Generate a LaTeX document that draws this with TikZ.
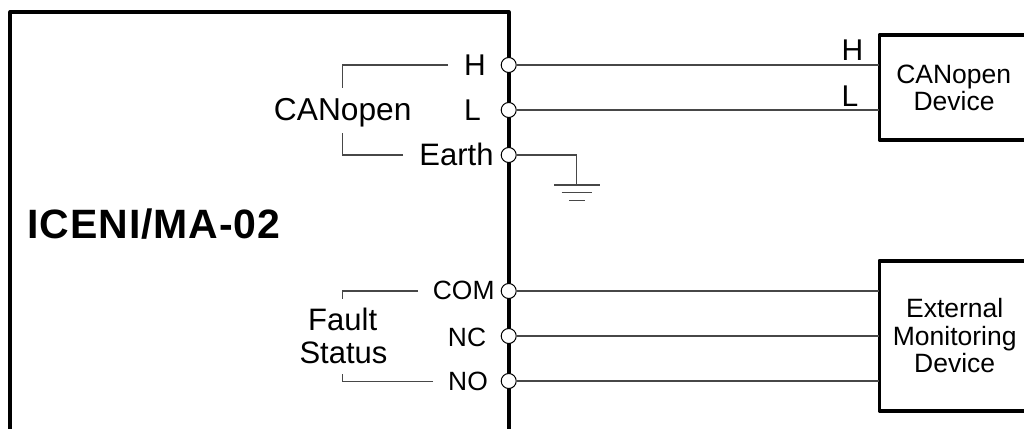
\documentclass[tikz,border=0pt]{standalone}
\usepackage{fontspec}
\setmainfont{Liberation Sans}
\newfontfamily\namefont[LetterSpace=2.2]{Liberation Sans}
\tikzset{
  heavy/.style={line width=3.9pt,black,line cap=round,line join=round},
  wire/.style={line width=1.3pt,black!72},
  thin wire/.style={line width=1.1pt,black!72},
  term/.style={circle,draw=black,line width=1pt,fill=white,minimum size=15pt,inner sep=0pt},
  lbl/.style={inner sep=0pt,anchor=base,text=black,font=\fontsize{#1}{#1}\selectfont}
}
\begin{document}
\begin{tikzpicture}[x=1pt,y=-1pt]
\useasboundingbox (0,0) rectangle (1024,428);
\fill[white] (0,0) rectangle (1024,428);
% main box
\coordinate (mbl) at (10.3,436);
\coordinate (mtl) at (10.3,12);
\coordinate (mtr) at (508.7,12);
\coordinate (mbr) at (508.7,436);
\draw[heavy] (mbl) -- (mtl) -- (mtr) -- (mbr);
% devices
\coordinate (d1tr) at (1034,35);
\coordinate (d1tl) at (879.5,35);
\coordinate (d1bl) at (879.5,139.8);
\coordinate (d1br) at (1034,139.8);
\draw[heavy] (d1tr) -- (d1tl) -- (d1bl) -- (d1br);
\coordinate (d2tr) at (1034,260.7);
\coordinate (d2tl) at (879.5,260.7);
\coordinate (d2bl) at (879.5,411);
\coordinate (d2br) at (1034,411);
\draw[heavy] (d2tr) -- (d2tl) -- (d2bl) -- (d2br);
% terminals
\node[term] (th) at (508.7,65) {};
\node[term] (tl) at (508.7,110) {};
\node[term] (te) at (508.7,155) {};
\node[term] (tc) at (508.7,291) {};
\node[term] (tnc) at (508.7,336) {};
\node[term] (tno) at (508.7,381) {};
% wires
\coordinate (dh) at (879,65);
\coordinate (dl) at (879,110);
\coordinate (dc) at (879,291);
\coordinate (dnc) at (879,336);
\coordinate (dno) at (879,381);
\draw[wire] (th) -- (dh);
\draw[wire] (tl) -- (dl);
\draw[wire] (tc) -- (dc);
\draw[wire] (tnc) -- (dnc);
\draw[wire] (tno) -- (dno);
% earth
\coordinate (gnd) at (576.7,185);
\draw[wire] (te) -| (gnd);
\coordinate (g1a) at (554,185);\coordinate (g1b) at (600,185);
\coordinate (g2a) at (561.7,192.7);\coordinate (g2b) at (592,192.7);
\coordinate (g3a) at (569,200.5);\coordinate (g3b) at (585,200.5);
\draw[wire] (g1a) -- (g1b);
\draw[wire] (g2a) -- (g2b);
\draw[wire] (g3a) -- (g3b);
% labels
\node[lbl=30] (lh) at (475,75.8) {H};
\node[lbl=30] (ll) at (472.5,120) {L};
\node[lbl=31] (le) at (456.5,165.7) {Earth};
\node[lbl=31.7] (can) at (342.7,120.7) {CANopen};
\node[lbl=26.4] (lc) at (463.7,299.3) {COM};
\node[lbl=26.4] (lnc) at (467,346) {NC};
\node[lbl=26.4] (lno) at (468,390.7) {NO};
\node[lbl=31] (ft) at (342.7,330) {Fault};
\node[lbl=31] (st) at (343.5,363) {Status};
\node[lbl=30] (rh) at (852.5,60.7) {H};
\node[lbl=30] (rl) at (850,106) {L};
\node[lbl=26.5] (d1a) at (953.7,83.3) {CANopen};
\node[lbl=26.5] (d1b) at (954,110.7) {Device};
\node[lbl=26.5] (d2a) at (954.7,317.3) {External};
\node[lbl=26.5] (d2b) at (954.7,345) {Monitoring};
\node[lbl=26.5] (d2c) at (954.7,372.7) {Device};
\node[inner sep=0pt,anchor=base,text=black,font=\namefont\fontsize{41}{41}\selectfont\bfseries] (name) at (154,238) {ICENI/MA-02};
% brackets
\coordinate (b1a) at (448,65);\coordinate (b1b) at (342.7,87.5);
\draw[thin wire] (b1a) -| (b1b);
\coordinate (b2a) at (403,155);\coordinate (b2b) at (342.7,132.7);
\draw[thin wire] (b2a) -| (b2b);
\coordinate (b3a) at (418,291);\coordinate (b3b) at (342.7,298.5);
\draw[thin wire] (b3a) -| (b3b);
\coordinate (b4a) at (433,381.5);\coordinate (b4b) at (342.7,374);
\draw[thin wire] (b4a) -| (b4b);
\end{tikzpicture}
\end{document}
